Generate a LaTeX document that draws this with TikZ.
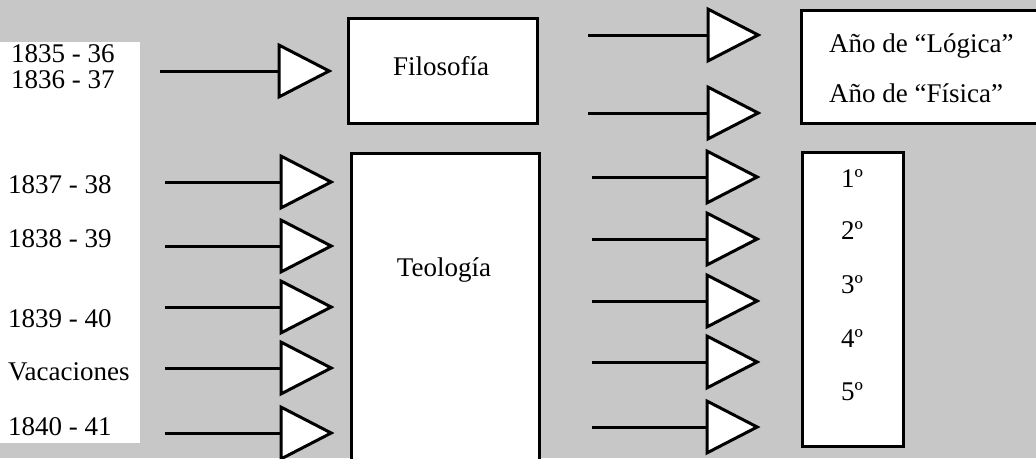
\documentclass[tikz,border=0pt]{standalone}
\usepackage{fontspec}
\setmainfont{Liberation Serif}
\usetikzlibrary{arrows.meta}

\begin{document}
\begin{tikzpicture}[
x={(1pt,0)}, y={(0,-1pt)},
boxnode/.style={rectangle, draw=black, fill=white, line width=3pt, inner sep=0pt},
textnode/.style={font=\fontsize{27}{31}\selectfont, inner sep=0pt},
bigarrow/.style={line width=3pt, -{Triangle[length=55pt, width=56pt, fill=white]}},
]
%Background
\useasboundingbox (0,0) rectangle (1036,458);
\fill[black!22] (0,0) rectangle (1036,458);
\fill[white] (0,42) rectangle (140,443);

%Nodes
\node[boxnode, minimum width=189pt, minimum height=105pt] (filosofia) at (442.5,70.5) {};
\node[boxnode, minimum width=188pt, minimum height=317pt] (teologia) at (445,311.5) {};
\node[boxnode, minimum width=250pt, minimum height=113pt] (anio) at (926,66.5) {};
\node[boxnode, minimum width=101pt, minimum height=294pt] (cursos) at (852.5,299) {};

\node[textnode, anchor=base] (filosofia_txt) at (441,75) {Filosofía};
\node[textnode, anchor=base] (teologia_txt) at (444,276) {Teología};
\node[textnode, anchor=base west] (logica) at (829,52) {Año de “Lógica”};
\node[textnode, anchor=base west] (fisica) at (829,102) {Año de “Física”};

\node[textnode, anchor=base] (curso1) at (852,187) {1º};
\node[textnode, anchor=base] (curso2) at (852,239) {2º};
\node[textnode, anchor=base] (curso3) at (852,293) {3º};
\node[textnode, anchor=base] (curso4) at (852,347) {4º};
\node[textnode, anchor=base] (curso5) at (852,400) {5º};

\node[textnode, anchor=base west] (y1835) at (11,62) {1835 - 36};
\node[textnode, anchor=base west] (y1836) at (11,88) {1836 - 37};
\node[textnode, anchor=base west] (y1837) at (8,193) {1837 - 38};
\node[textnode, anchor=base west] (y1838) at (8,247) {1838 - 39};
\node[textnode, anchor=base west] (y1839) at (8,327) {1839 - 40};
\node[textnode, anchor=base west] (vacaciones) at (8,380) {Vacaciones};
\node[textnode, anchor=base west] (y1840) at (8,435) {1840 - 41};

%Arrow tails
\coordinate (fil_in) at (160,71);
\coordinate (teo_in1) at (165,182);
\coordinate (teo_in2) at (165,246);
\coordinate (teo_in3) at (165,307);
\coordinate (teo_in4) at (165,368);
\coordinate (teo_in5) at (165,433);
\coordinate (fil_out1) at (588,35);
\coordinate (fil_out2) at (588,113);
\coordinate (teo_out1) at (592,177);
\coordinate (teo_out2) at (592,239);
\coordinate (teo_out3) at (592,301);
\coordinate (teo_out4) at (592,362);
\coordinate (teo_out5) at (592,427);

%Lines
\draw[bigarrow, shorten >=14pt] (fil_in) -- (filosofia.west |- fil_in);
\draw[bigarrow, shorten >=15pt] (teo_in1) -- (teologia.west |- teo_in1);
\draw[bigarrow, shorten >=15pt] (teo_in2) -- (teologia.west |- teo_in2);
\draw[bigarrow, shorten >=15pt] (teo_in3) -- (teologia.west |- teo_in3);
\draw[bigarrow, shorten >=15pt] (teo_in4) -- (teologia.west |- teo_in4);
\draw[bigarrow, shorten >=15pt] (teo_in5) -- (teologia.west |- teo_in5);
\draw[bigarrow, shorten >=38pt] (fil_out1) -- (anio.west |- fil_out1);
\draw[bigarrow, shorten >=38pt] (fil_out2) -- (anio.west |- fil_out2);
\draw[bigarrow, shorten >=40pt] (teo_out1) -- (cursos.west |- teo_out1);
\draw[bigarrow, shorten >=40pt] (teo_out2) -- (cursos.west |- teo_out2);
\draw[bigarrow, shorten >=40pt] (teo_out3) -- (cursos.west |- teo_out3);
\draw[bigarrow, shorten >=40pt] (teo_out4) -- (cursos.west |- teo_out4);
\draw[bigarrow, shorten >=40pt] (teo_out5) -- (cursos.west |- teo_out5);

\end{tikzpicture}
\end{document}
